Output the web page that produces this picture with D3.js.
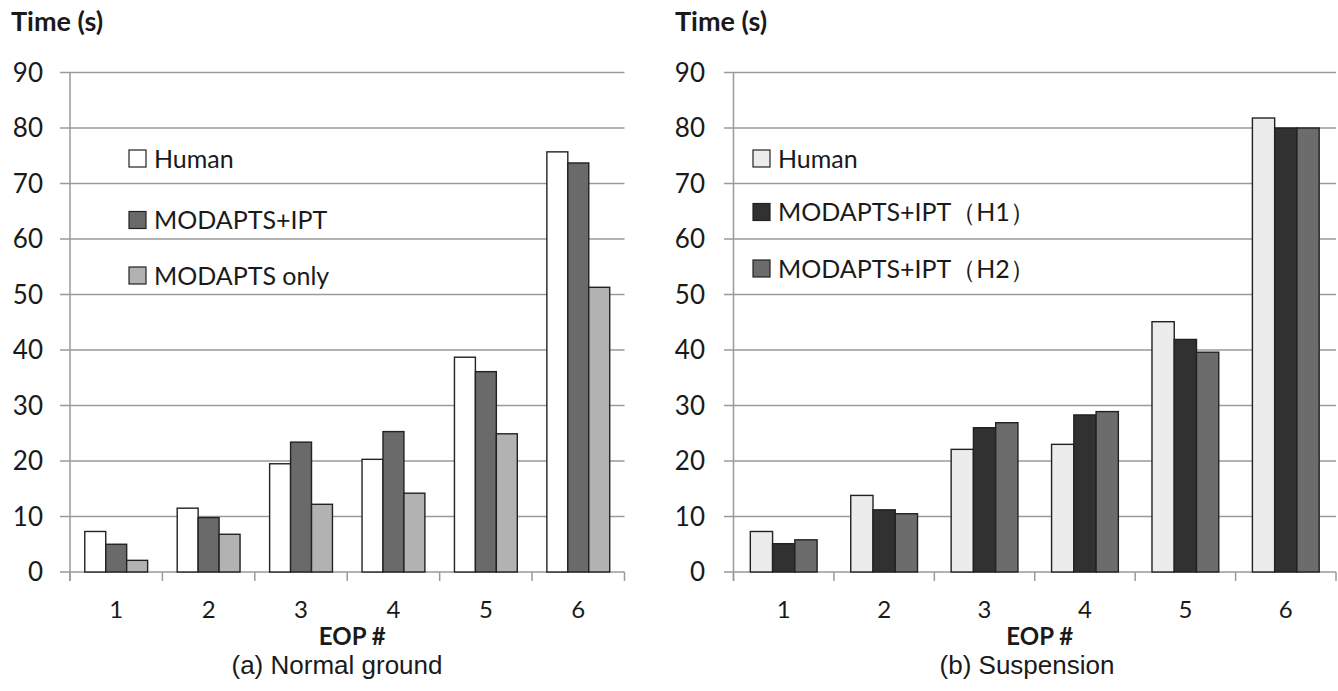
<!DOCTYPE html>
<html>
<head>
<meta charset="utf-8">
<script src="https://cdn.jsdelivr.net/npm/d3@7"></script>
<style>
  body { margin: 0; background: #fff; }
  text { fill: #1a1a1a; }
</style>
</head>
<body>
<div id="chart"></div>
<script>
// Data
var eops = ["1", "2", "3", "4", "5", "6"];
var yTicks = [0, 10, 20, 30, 40, 50, 60, 70, 80, 90];

// (a) Normal ground
var seriesA = ["Human", "MODAPTS+IPT", "MODAPTS only"];
var humanA = [7.3, 11.5, 19.5, 20.3, 38.7, 75.7];
var ipt = [5.0, 9.8, 23.4, 25.3, 36.1, 73.7];
var modaptsOnly = [2.1, 6.8, 12.2, 14.2, 24.9, 51.3];

// (b) Suspension
var seriesB = ["Human", "MODAPTS+IPT（H1）", "MODAPTS+IPT（H2）"];
var humanB = [7.3, 13.8, 22.1, 23.0, 45.1, 81.8];
var iptH1 = [5.1, 11.2, 26.0, 28.3, 41.9, 80.0];
var iptH2 = [5.8, 10.5, 26.9, 28.9, 39.6, 80.0];

var svgWidth = 1338;
var svgHeight = 691;

var svg = d3.select("#chart")
  .append("svg")
  .attr("width", svgWidth)
  .attr("height", svgHeight);

var font = "Lato, 'Open Sans', sans-serif";

function drawPanel(cfg) {
  var g = svg.append("g");

  var y = d3.scaleLinear().domain([0, 90]).range([572, 72.5]);
  var x0 = d3.scaleBand().domain(eops).range([cfg.left, cfg.right]);
  var pad = x0.bandwidth() * (1 - cfg.groupFrac) / 2;
  var x1 = d3.scaleBand().domain(cfg.series)
    .range([pad, x0.bandwidth() - pad]);

  // gridlines
  g.selectAll("line.grid")
    .data(yTicks)
    .enter()
    .append("line")
    .attr("x1", cfg.gridStart)
    .attr("x2", cfg.right)
    .attr("y1", d => y(d))
    .attr("y2", d => y(d))
    .attr("stroke", "#9a9a9a")
    .attr("stroke-width", 1.5);

  // y axis line
  g.append("line")
    .attr("x1", cfg.left).attr("x2", cfg.left)
    .attr("y1", y(90)).attr("y2", y(0) + 9)
    .attr("stroke", "#9a9a9a")
    .attr("stroke-width", 1.5);

  // category tick marks
  var bounds = eops.map(d => x0(d) + x0.bandwidth()).concat([cfg.left]);
  g.selectAll("line.tick")
    .data(bounds)
    .enter()
    .append("line")
    .attr("x1", d => d).attr("x2", d => d)
    .attr("y1", y(0)).attr("y2", y(0) + 9)
    .attr("stroke", "#9a9a9a")
    .attr("stroke-width", 1.5);

  // y tick labels
  g.selectAll("text.ylab")
    .data(yTicks)
    .enter()
    .append("text")
    .attr("x", cfg.yLabelX)
    .attr("y", d => y(d))
    .attr("dy", "0.36em")
    .attr("text-anchor", "end")
    .style("font-family", font)
    .style("font-size", "26px")
    .text(d => d);

  // x tick labels
  g.selectAll("text.xlab")
    .data(eops)
    .enter()
    .append("text")
    .attr("x", d => x0(d) + x0.bandwidth() / 2)
    .attr("y", 618)
    .attr("text-anchor", "middle")
    .style("font-family", font)
    .style("font-size", "24px")
    .text(d => d);

  // bars
  var groups = g.selectAll("g.grp")
    .data(eops.map((e, i) => ({ eop: e, vals: cfg.values.map(v => v[i]) })))
    .enter()
    .append("g")
    .attr("transform", d => `translate(${x0(d.eop)},0)`);

  groups.selectAll("rect")
    .data(d => d.vals.map((v, j) => ({ s: cfg.series[j], v: v, c: cfg.colors[j] })))
    .enter()
    .append("rect")
    .attr("x", d => x1(d.s))
    .attr("y", d => y(d.v))
    .attr("width", x1.bandwidth())
    .attr("height", d => y(0) - y(d.v))
    .attr("fill", d => d.c)
    .attr("stroke", "#222")
    .attr("stroke-width", 1.4);

  // legend
  var leg = g.selectAll("g.leg")
    .data(cfg.series)
    .enter()
    .append("g")
    .attr("transform", (d, i) => `translate(${cfg.legX},${cfg.legY[i]})`);

  leg.append("rect")
    .attr("x", 0).attr("y", -8.5)
    .attr("width", 17).attr("height", 17)
    .attr("fill", (d, i) => cfg.colors[i])
    .attr("stroke", "#222")
    .attr("stroke-width", 1.2);

  leg.append("text")
    .attr("x", 25)
    .attr("y", 0)
    .attr("dy", "0.36em")
    .style("font-family", font)
    .style("font-size", "25px")
    .text(d => d);

  // axis titles
  g.append("text")
    .attr("x", cfg.titleX)
    .attr("y", 31)
    .style("font-family", font)
    .style("font-size", "27px")
    .style("font-weight", "bold")
    .text("Time (s)");

  g.append("text")
    .attr("x", (cfg.left + cfg.right) / 2 + 5)
    .attr("y", 645)
    .attr("text-anchor", "middle")
    .style("font-family", font)
    .style("font-size", "24px")
    .style("font-weight", "bold")
    .text("EOP #");

  g.append("text")
    .attr("x", cfg.captionX)
    .attr("y", 674)
    .attr("text-anchor", "middle")
    .style("font-family", "'Liberation Sans', Arial, sans-serif")
    .style("font-size", "26px")
    .text(cfg.caption);
}

drawPanel({
  left: 70, right: 624.5, gridStart: 60, groupFrac: 0.68,
  yLabelX: 43, titleX: 11, captionX: 337,
  series: seriesA,
  values: [humanA, ipt, modaptsOnly],
  colors: ["#ffffff", "#6a6a6a", "#b2b2b2"],
  legX: 129, legY: [158.5, 220, 275.5],
  caption: "(a) Normal ground"
});

drawPanel({
  left: 733.5, right: 1336, gridStart: 724, groupFrac: 0.665,
  yLabelX: 705, titleX: 675, captionX: 1027,
  series: seriesB,
  values: [humanB, iptH1, iptH2],
  colors: ["#ececec", "#313131", "#6c6c6c"],
  legX: 753, legY: [158.5, 212, 268.5],
  caption: "(b) Suspension"
});
</script>
</body>
</html>
